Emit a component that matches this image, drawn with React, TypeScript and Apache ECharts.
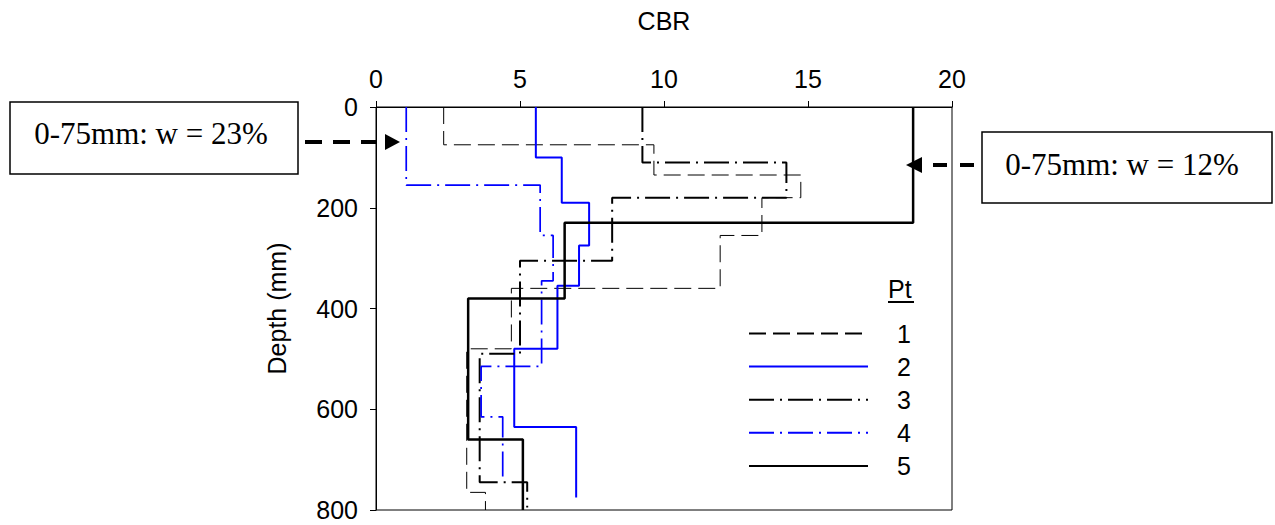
import React, { useEffect, useRef } from "react";
import * as echarts from "echarts";

// ---- data (CBR value per depth interval) ----
const seriesNames = ["1", "2", "3", "4", "5"];

const depths1 = [0, 75, 135, 180, 255, 360, 480, 765, 800];
const cbr1 = [2.35, 9.65, 14.75, 13.4, 11.95, 4.7, 3.15, 3.8];

const depths2 = [0, 100, 190, 275, 355, 480, 635, 775];
const cbr2 = [5.55, 6.45, 7.4, 7.05, 6.3, 4.8, 6.95];

const depths3 = [0, 110, 180, 305, 490, 745, 795];
const cbr3 = [9.25, 14.25, 8.2, 5.0, 3.6, 5.25];

const depths4 = [0, 155, 255, 345, 515, 615, 740];
const cbr4 = [1.05, 5.7, 6.15, 5.75, 3.65, 4.4];

const depths5 = [0, 230, 380, 660, 800];
const cbr5 = [18.65, 6.55, 3.2, 5.1];

const xTickMin = 0;
const xTickMax = 20;
const xTickStep = 5;
const yTickMin = 0;
const yTickMax = 800;
const yTickStep = 200;

const noteLeft = "0-75mm: w = 23%";
const noteRight = "0-75mm: w = 12%";

function stepPoints(depths: number[], cbr: number[]): number[][] {
  const pts: number[][] = [];
  for (let i = 0; i < cbr.length; i++) {
    pts.push([cbr[i], depths[i]]);
    pts.push([cbr[i], depths[i + 1]]);
  }
  return pts;
}

const SANS = "'Liberation Sans', Arial, sans-serif";
const SERIF = "'Liberation Serif', 'Times New Roman', serif";

export default function App() {
  const ref = useRef<HTMLDivElement>(null);

  useEffect(() => {
    document.body.style.margin = "0";
    if (!ref.current) return;
    const chart = echarts.init(ref.current, undefined, { renderer: "svg" });

    const styles = [
      { color: "#000000", width: 1, type: [17, 7] as any },
      { color: "#0000ff", width: 2, type: "solid" as any },
      { color: "#000000", width: 2, type: [25, 6, 2, 6] as any },
      { color: "#0000ff", width: 1.7, type: [25, 6, 2, 6] as any },
      { color: "#000000", width: 2.5, type: "solid" as any },
    ];
    const dataSets = [
      stepPoints(depths1, cbr1),
      stepPoints(depths2, cbr2),
      stepPoints(depths3, cbr3),
      stepPoints(depths4, cbr4),
      stepPoints(depths5, cbr5),
    ];

    const option: any = {
      animation: false,
      backgroundColor: "#ffffff",
      grid: {
        left: 376,
        top: 107,
        width: 576,
        height: 403,
        show: true,
        borderColor: "#000",
        borderWidth: 1,
        containLabel: false,
      },
      xAxis: {
        type: "value",
        position: "top",
        min: xTickMin,
        max: xTickMax,
        interval: xTickStep,
        name: "CBR",
        nameLocation: "middle",
        nameGap: 74,
        nameTextStyle: { color: "#000", fontSize: 25, fontFamily: SANS },
        axisLine: { show: true, lineStyle: { color: "#000", width: 1 } },
        axisTick: { show: true, inside: false, length: 6, lineStyle: { color: "#000" } },
        axisLabel: { color: "#000", fontSize: 25, fontFamily: SANS, margin: 16 },
        splitLine: { show: false },
      },
      yAxis: {
        type: "value",
        inverse: true,
        min: yTickMin,
        max: yTickMax,
        interval: yTickStep,
        name: "Depth (mm)",
        nameLocation: "middle",
        nameGap: 87,
        nameTextStyle: { color: "#000", fontSize: 25, fontFamily: SANS },
        axisLine: { show: true, lineStyle: { color: "#000", width: 1 } },
        axisTick: { show: true, inside: false, length: 6, lineStyle: { color: "#000" } },
        axisLabel: { color: "#000", fontSize: 25, fontFamily: SANS, margin: 18 },
        splitLine: { show: false },
      },
      legend: {
        orient: "vertical",
        left: 748,
        top: 321,
        padding: 0,
        itemWidth: 119,
        itemHeight: 24,
        itemGap: 8.1,
        selectedMode: false,
        data: seriesNames,
        itemStyle: { opacity: 0 },
        textStyle: {
          color: "#000",
          fontSize: 25,
          fontFamily: SANS,
          lineHeight: 24,
          padding: [0, 0, 0, 24],
        },
      },
      series: seriesNames.map((name, i) => ({
        name,
        type: "line",
        data: dataSets[i],
        symbol: "none",
        showSymbol: false,
        clip: false,
        lineStyle: styles[i],
        itemStyle: { color: styles[i].color },
        z: 2 + i,
      })),
      graphic: [
        // legend title
        {
          type: "text",
          left: 888,
          top: 276,
          style: { text: "Pt", fill: "#000", font: `25px ${SANS}` },
        },
        {
          type: "line",
          shape: { x1: 888, y1: 302, x2: 914, y2: 302 },
          style: { stroke: "#000", lineWidth: 2 },
        },
        // left note box
        {
          type: "rect",
          shape: { x: 10, y: 102, width: 288, height: 72 },
          style: { fill: "#fff", stroke: "#000", lineWidth: 1.5 },
        },
        {
          type: "text",
          x: 151,
          y: 133,
          style: {
            text: noteLeft,
            fill: "#000",
            font: `31px ${SERIF}`,
            align: "center",
            verticalAlign: "middle",
          },
        },
        {
          type: "line",
          shape: { x1: 305, y1: 142, x2: 376, y2: 142 },
          style: { stroke: "#000", lineWidth: 4, lineDash: [17, 11] },
        },
        {
          type: "polygon",
          shape: { points: [[385, 134], [400, 142], [385, 150]] },
          style: { fill: "#000" },
        },
        // right note box
        {
          type: "rect",
          shape: { x: 982, y: 132, width: 290, height: 71 },
          style: { fill: "#fff", stroke: "#000", lineWidth: 1.5 },
        },
        {
          type: "text",
          x: 1122,
          y: 164,
          style: {
            text: noteRight,
            fill: "#000",
            font: `31px ${SERIF}`,
            align: "center",
            verticalAlign: "middle",
          },
        },
        {
          type: "line",
          shape: { x1: 933, y1: 165, x2: 982, y2: 165 },
          style: { stroke: "#000", lineWidth: 4, lineDash: [14, 13] },
        },
        {
          type: "polygon",
          shape: { points: [[922, 157], [906, 165], [922, 173]] },
          style: { fill: "#000" },
        },
      ],
    };

    chart.setOption(option);
    return () => chart.dispose();
  }, []);

  return <div ref={ref} style={{ width: 1275, height: 525 }} />;
}
